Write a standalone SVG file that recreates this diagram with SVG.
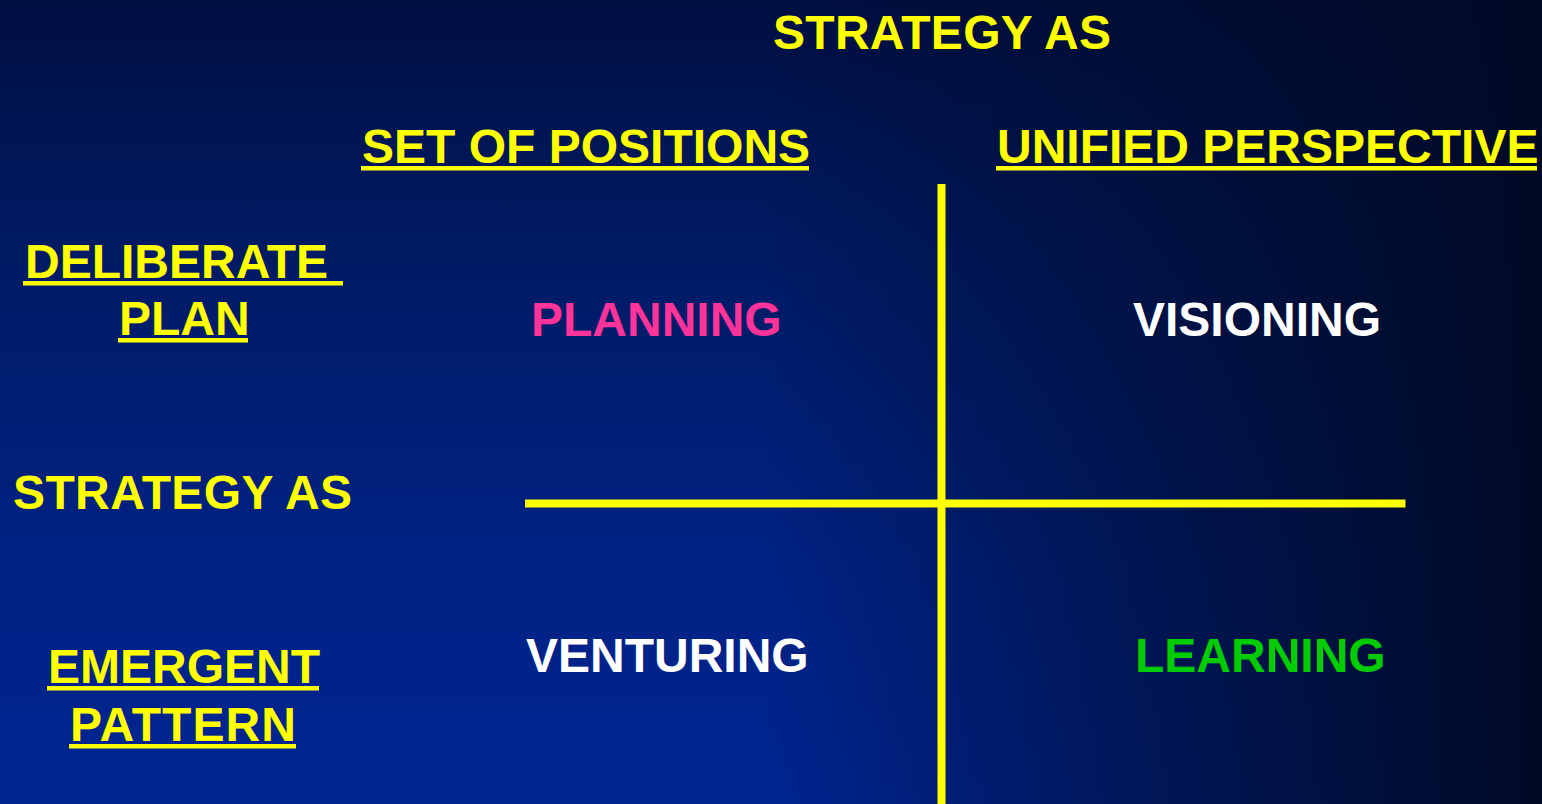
<svg xmlns="http://www.w3.org/2000/svg" width="1542" height="804" viewBox="0 0 1542 804">
  <defs>
    <!-- background: bright blue low on the left, darkening upward and toward the right edge -->
    <linearGradient id="bgV" gradientUnits="userSpaceOnUse" x1="0" y1="0" x2="0" y2="804">
      <stop offset="0" stop-color="#000f42"/>
      <stop offset="0.3" stop-color="#001a62"/>
      <stop offset="0.7" stop-color="#002284"/>
      <stop offset="1" stop-color="#002592"/>
    </linearGradient>
    <linearGradient id="bgH" gradientUnits="userSpaceOnUse" x1="760" y1="0" x2="1542" y2="0">
      <stop offset="0" stop-color="#000a28" stop-opacity="0"/>
      <stop offset="0.5" stop-color="#000a28" stop-opacity="0.55"/>
      <stop offset="1" stop-color="#000a26" stop-opacity="1"/>
    </linearGradient>
    <style>
      text { font-family: "Liberation Sans", Arial, sans-serif; font-weight: bold; font-size: 48px; }
      .y { fill: #ffff00; }
      .w { fill: #ffffff; }
      .p { fill: #ff3399; }
      .g { fill: #00cc00; }
      .ul { fill: #ffff00; }
      .axis { stroke: #ffff00; stroke-width: 8; fill: none; }
    </style>
  </defs>

  <rect width="1542" height="804" fill="url(#bgV)"/>
  <rect width="1542" height="804" fill="url(#bgH)"/>

  <!-- quadrant axes -->
  <g id="connectors">
    <line class="axis" x1="941.5" y1="184" x2="941.5" y2="804"/>
    <line class="axis" x1="525" y1="503.5" x2="1405.5" y2="503.5"/>
  </g>

  <!-- column heading -->
  <g id="title-top">
    <text class="y" x="773" y="49" textLength="338" lengthAdjust="spacing">STRATEGY AS</text>
  </g>
  <g id="col-positions">
    <text class="y" x="362" y="163">SET OF POSITIONS</text>
    <rect class="ul" x="361" y="166" width="448" height="4.5"/>
  </g>
  <g id="col-perspective">
    <text class="y" x="997" y="163">UNIFIED PERSPECTIVE</text>
    <rect class="ul" x="996" y="166" width="541" height="4.5"/>
  </g>

  <!-- row heading -->
  <g id="row-deliberate">
    <text class="y" x="25" y="278">DELIBERATE </text>
    <rect class="ul" x="23" y="281" width="320" height="4.5"/>
    <text class="y" x="119" y="335">PLAN</text>
    <rect class="ul" x="118" y="338" width="130" height="4.5"/>
  </g>
  <g id="title-left">
    <text class="y" x="13" y="509" textLength="339" lengthAdjust="spacing">STRATEGY AS</text>
  </g>
  <g id="row-emergent">
    <text class="y" x="48" y="683">EMERGENT</text>
    <rect class="ul" x="47" y="686" width="272" height="4.5"/>
    <text class="y" x="70" y="741" textLength="226" lengthAdjust="spacing">PATTERN</text>
    <rect class="ul" x="69" y="744" width="227" height="4.5"/>
  </g>

  <!-- quadrant cells -->
  <g id="cell-planning">
    <text class="p" x="531" y="336">PLANNING</text>
  </g>
  <g id="cell-visioning">
    <text class="w" x="1133" y="336">VISIONING</text>
  </g>
  <g id="cell-venturing">
    <text class="w" x="526" y="672">VENTURING</text>
  </g>
  <g id="cell-learning">
    <text class="g" x="1135" y="672">LEARNING</text>
  </g>
</svg>
